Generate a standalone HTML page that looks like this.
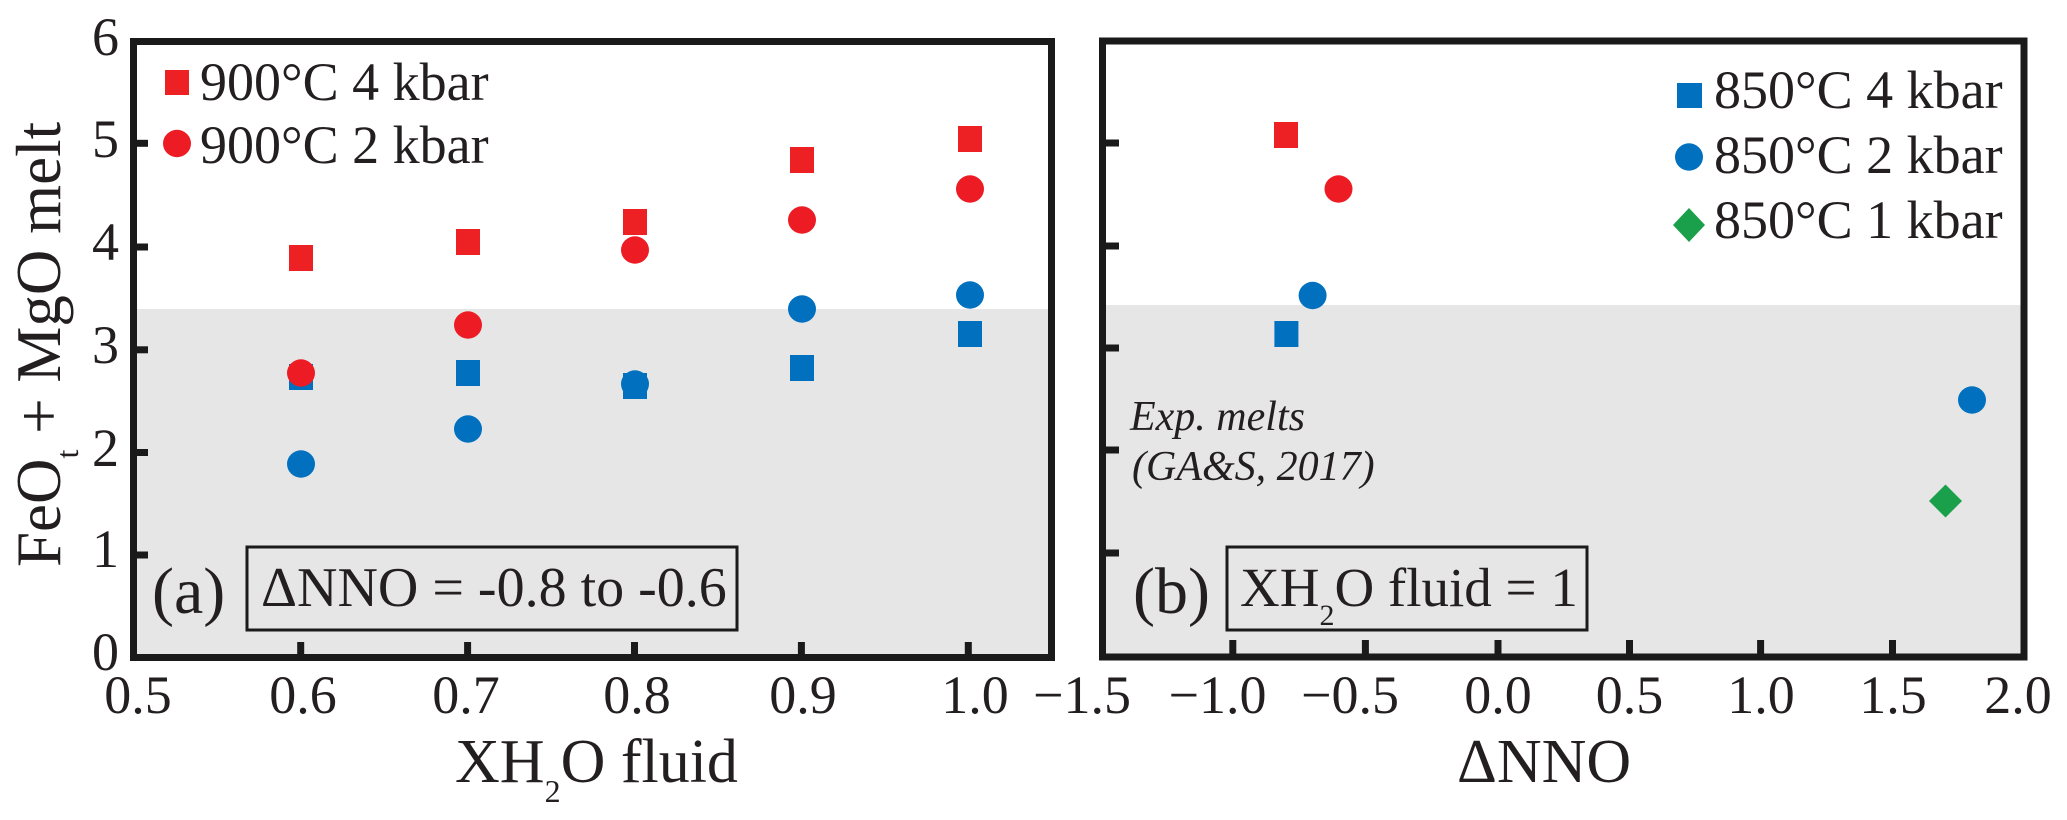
<!DOCTYPE html>
<html>
<head>
<meta charset="utf-8">
<style>
html,body{margin:0;padding:0;background:#fff;}
svg{display:block;}
text{font-family:"Liberation Serif","DejaVu Serif",serif;fill:#231f20;}
</style>
</head>
<body>
<svg width="2067" height="820" viewBox="0 0 2067 820" xmlns="http://www.w3.org/2000/svg">
  <!-- Panel a shading -->
  <rect x="137" y="309" width="911" height="345" fill="#e6e6e6"/>
  <!-- Panel b shading -->
  <rect x="1106" y="305" width="915" height="349" fill="#e6e6e6"/>

  <!-- Panel a ticks -->
  <g stroke="#1a1a1a" stroke-width="7">
    <line x1="134" y1="143.3" x2="148" y2="143.3"/>
    <line x1="134" y1="247" x2="148" y2="247"/>
    <line x1="134" y1="349.8" x2="148" y2="349.8"/>
    <line x1="134" y1="452.5" x2="148" y2="452.5"/>
    <line x1="134" y1="555" x2="148" y2="555"/>
    <line x1="300.7" y1="658" x2="300.7" y2="642"/>
    <line x1="467.6" y1="658" x2="467.6" y2="642"/>
    <line x1="634.5" y1="658" x2="634.5" y2="642"/>
    <line x1="801.4" y1="658" x2="801.4" y2="642"/>
    <line x1="968.3" y1="658" x2="968.3" y2="642"/>
  </g>
  <!-- Panel b ticks -->
  <g stroke="#1a1a1a" stroke-width="7">
    <line x1="1103" y1="143" x2="1119" y2="143"/>
    <line x1="1103" y1="246" x2="1119" y2="246"/>
    <line x1="1103" y1="348" x2="1119" y2="348"/>
    <line x1="1103" y1="450" x2="1119" y2="450"/>
    <line x1="1103" y1="553" x2="1119" y2="553"/>
    <line x1="1232.8" y1="657" x2="1232.8" y2="640"/>
    <line x1="1365.4" y1="657" x2="1365.4" y2="640"/>
    <line x1="1498" y1="657" x2="1498" y2="640"/>
    <line x1="1629.5" y1="657" x2="1629.5" y2="640"/>
    <line x1="1760.6" y1="657" x2="1760.6" y2="640"/>
    <line x1="1892.5" y1="657" x2="1892.5" y2="640"/>
  </g>

  <!-- Frames -->
  <rect x="133.5" y="41.5" width="918" height="616" fill="none" stroke="#1a1a1a" stroke-width="7"/>
  <rect x="1102.5" y="41" width="921.5" height="616" fill="none" stroke="#1a1a1a" stroke-width="7"/>

  <!-- Panel a data: squares -->
  <g fill="#ed2024">
    <rect x="289" y="245" width="24" height="26"/>
    <rect x="456" y="229" width="24" height="26"/>
    <rect x="623" y="209" width="24" height="26"/>
    <rect x="790" y="147" width="24" height="26"/>
    <rect x="958" y="126" width="24" height="26"/>
  </g>
  <g fill="#0070bf">
    <rect x="289" y="364" width="24" height="26"/>
    <rect x="456" y="360" width="24" height="26"/>
    <rect x="623" y="373" width="24" height="26"/>
    <rect x="790" y="355" width="24" height="26"/>
    <rect x="958" y="321" width="24" height="26"/>
  </g>
  <!-- Panel a data: circles -->
  <g fill="#ed1c24">
    <ellipse cx="301" cy="373" rx="14" ry="13.7"/>
    <ellipse cx="468" cy="325" rx="14" ry="13.7"/>
    <ellipse cx="635" cy="250" rx="14" ry="13.7"/>
    <ellipse cx="802" cy="220" rx="14" ry="13.7"/>
    <ellipse cx="970" cy="189" rx="14" ry="13.7"/>
  </g>
  <g fill="#0070bf">
    <ellipse cx="301" cy="464" rx="14" ry="13.7"/>
    <ellipse cx="468" cy="429" rx="14" ry="13.7"/>
    <ellipse cx="635" cy="384" rx="14" ry="13.7"/>
    <ellipse cx="802" cy="309" rx="14" ry="13.7"/>
    <ellipse cx="970" cy="295" rx="14" ry="13.7"/>
  </g>

  <!-- Panel b data -->
  <rect x="1274" y="122" width="24" height="26" fill="#ed2024"/>
  <ellipse cx="1338.5" cy="189" rx="14" ry="13.7" fill="#ed1c24"/>
  <ellipse cx="1312.6" cy="295.5" rx="14" ry="13.7" fill="#0070bf"/>
  <rect x="1274.4" y="321" width="24" height="26" fill="#0070bf"/>
  <ellipse cx="1972" cy="400" rx="14" ry="13.7" fill="#0070bf"/>
  <polygon points="1945.5,484.5 1962,501 1945.5,517.5 1929,501" fill="#1a9f4a"/>

  <!-- Legend a -->
  <rect x="165" y="70" width="24" height="25" fill="#ed2024"/>
  <ellipse cx="177" cy="143.5" rx="14" ry="13.7" fill="#ed1c24"/>
  <text x="200" y="100" font-size="54">900°C 4 kbar</text>
  <text x="200" y="163" font-size="54">900°C 2 kbar</text>

  <!-- Legend b -->
  <rect x="1677" y="83" width="25" height="25" fill="#0070bf"/>
  <ellipse cx="1689" cy="157" rx="14" ry="13.7" fill="#0070bf"/>
  <polygon points="1689,208 1705,225 1689,242 1673,225" fill="#1a9f4a"/>
  <text x="1714" y="108" font-size="54">850°C 4 kbar</text>
  <text x="1714" y="173" font-size="54">850°C 2 kbar</text>
  <text x="1714" y="238" font-size="54">850°C 1 kbar</text>

  <!-- Exp melts -->
  <text x="1130" y="430" font-size="42" font-style="italic">Exp. melts</text>
  <text x="1132" y="480" font-size="42" font-style="italic">(GA&amp;S, 2017)</text>

  <!-- Panel labels and boxes -->
  <text x="152" y="613" font-size="66">(a)</text>
  <rect x="247" y="547" width="490" height="83" fill="none" stroke="#1a1a1a" stroke-width="3"/>
  <text x="261" y="606" font-size="56">ΔNNO = -0.8 to -0.6</text>

  <text x="1133" y="613" font-size="66">(b)</text>
  <rect x="1227" y="547" width="360" height="83" fill="none" stroke="#1a1a1a" stroke-width="3"/>
  <text x="1240" y="606" font-size="55">XH<tspan font-size="30" dy="19">2</tspan><tspan dy="-19">O fluid = 1</tspan></text>

  <!-- Y tick labels -->
  <g font-size="54" text-anchor="end">
    <text x="119" y="55">6</text>
    <text x="119" y="157">5</text>
    <text x="119" y="260">4</text>
    <text x="119" y="363">3</text>
    <text x="119" y="466">2</text>
    <text x="119" y="567">1</text>
    <text x="119" y="670">0</text>
  </g>

  <!-- X tick labels panel a -->
  <g font-size="54" text-anchor="middle">
    <text x="138" y="713">0.5</text>
    <text x="303" y="713">0.6</text>
    <text x="466" y="713">0.7</text>
    <text x="637" y="713">0.8</text>
    <text x="803" y="713">0.9</text>
    <text x="975" y="713">1.0</text>
  </g>
  <!-- X tick labels panel b -->
  <g font-size="54" text-anchor="end">
    <text x="1131" y="713">−1.5</text>
    <text x="1266.5" y="713">−1.0</text>
    <text x="1399" y="713">−0.5</text>
  </g>
  <g font-size="54" text-anchor="middle">
    <text x="1498" y="713">0.0</text>
    <text x="1629.5" y="713">0.5</text>
    <text x="1761" y="713">1.0</text>
    <text x="1893" y="713">1.5</text>
    <text x="2018" y="713">2.0</text>
  </g>

  <!-- Axis titles -->
  <text x="455" y="782" font-size="62">XH<tspan font-size="32" dy="20">2</tspan><tspan dy="-20">O fluid</tspan></text>
  <text x="1457" y="782" font-size="62">ΔNNO</text>
  <text transform="translate(60,567) rotate(-90)" font-size="63">FeO<tspan font-size="32" dy="18">t</tspan><tspan dy="-18"> + MgO melt</tspan></text>
</svg>
</body>
</html>
